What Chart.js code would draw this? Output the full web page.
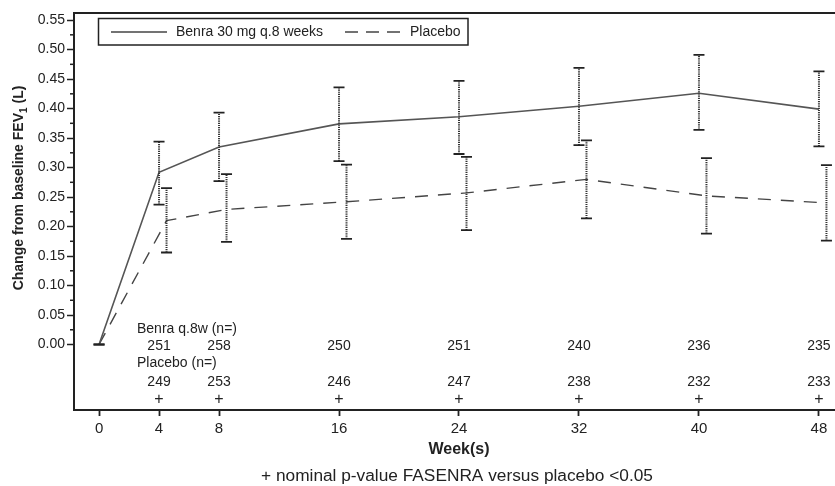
<!DOCTYPE html>
<html>
<head>
<meta charset="utf-8">
<script src="https://cdn.jsdelivr.net/npm/chart.js@4"></script>
<style>
  body { margin: 0; background: #fff; overflow: hidden; }
</style>
</head>
<body>
<canvas id="chart" width="835" height="486"></canvas>
<script>
// weeks and FEV1 change (L)
const weeks = [0, 4, 8, 16, 24, 32, 40, 48];
const placeboWeeks = [0, 4.5, 8.5, 16.5, 24.5, 32.5, 40.5, 48.5];

const benra = [0, 0.292, 0.335, 0.374, 0.386, 0.404, 0.426, 0.399];
const benraLow = [0, 0.237, 0.277, 0.311, 0.323, 0.338, 0.364, 0.336];
const benraHigh = [0, 0.344, 0.393, 0.436, 0.447, 0.469, 0.491, 0.463];

const placebo = [0, 0.210, 0.229, 0.242, 0.257, 0.280, 0.252, 0.240];
const placeboLow = [0, 0.156, 0.174, 0.179, 0.194, 0.214, 0.188, 0.176];
const placeboHigh = [0, 0.265, 0.289, 0.305, 0.318, 0.346, 0.316, 0.304];

const nWeeks = [4, 8, 16, 24, 32, 40, 48];
const benraN = [251, 258, 250, 251, 240, 236, 235];
const placeboN = [249, 253, 246, 247, 238, 232, 233];
const significant = [true, true, true, true, true, true, true];

const yTicks = [];
for (let i = 0; i <= 22; i++) yTicks.push(Math.round(i * 0.025 * 1000) / 1000);

const FONT = '"Liberation Sans", Arial, sans-serif';
const INK = "#222";

const errorBars = {
  id: "errorBars",
  afterDatasetsDraw(chart) {
    let ctx = chart.ctx;
    let xs = chart.scales.x, ys = chart.scales.y;
    let sets = [
      { x: weeks, lo: benraLow, hi: benraHigh },
      { x: placeboWeeks, lo: placeboLow, hi: placeboHigh }
    ];
    ctx.save();
    sets.forEach(s => {
      s.x.forEach((w, i) => {
        let px = xs.getPixelForValue(w);
        let y1 = ys.getPixelForValue(s.lo[i]);
        let y2 = ys.getPixelForValue(s.hi[i]);
        ctx.strokeStyle = "#333";
        ctx.lineWidth = 2;
        ctx.setLineDash([1.2, 1]);
        ctx.beginPath();
        ctx.moveTo(px, y1);
        ctx.lineTo(px, y2);
        ctx.stroke();
        ctx.setLineDash([]);
        ctx.lineWidth = 1.8;
        ctx.strokeStyle = INK;
        ctx.beginPath();
        ctx.moveTo(px - 5.5, y1); ctx.lineTo(px + 5.5, y1);
        ctx.moveTo(px - 5.5, y2); ctx.lineTo(px + 5.5, y2);
        ctx.stroke();
      });
    });
    ctx.restore();
  }
};

const decorations = {
  id: "decorations",
  afterDraw(chart) {
    let ctx = chart.ctx;
    let a = chart.chartArea;
    let xs = chart.scales.x, ys = chart.scales.y;
    ctx.save();

    // frame (right edge falls outside the picture)
    ctx.strokeStyle = INK;
    ctx.lineWidth = 2;
    ctx.beginPath();
    ctx.moveTo(chart.width, a.top);
    ctx.lineTo(a.left, a.top);
    ctx.lineTo(a.left, a.bottom);
    ctx.lineTo(chart.width, a.bottom);
    ctx.stroke();

    // minor y ticks
    ctx.lineWidth = 1.5;
    yTicks.forEach((v, i) => {
      if (i % 2 === 0) return;
      let py = ys.getPixelForValue(v);
      ctx.beginPath();
      ctx.moveTo(a.left - 4, py);
      ctx.lineTo(a.left, py);
      ctx.stroke();
    });

    // legend
    ctx.lineWidth = 1.5;
    ctx.strokeRect(98.5, 18.5, 369.5, 26.5);
    ctx.font = "14px " + FONT;
    ctx.fillStyle = INK;
    ctx.textBaseline = "middle";
    ctx.strokeStyle = "#444";
    ctx.beginPath();
    ctx.moveTo(111, 32); ctx.lineTo(167, 32);
    ctx.stroke();
    ctx.fillText(chart.data.datasets[0].label, 176, 32);
    ctx.setLineDash([13, 8]);
    ctx.beginPath();
    ctx.moveTo(345, 32); ctx.lineTo(405, 32);
    ctx.stroke();
    ctx.setLineDash([]);
    ctx.fillText(chart.data.datasets[1].label, 410, 32);

    // n rows
    ctx.textAlign = "left";
    ctx.fillText("Benra q.8w (n=)", 137, ys.getPixelForValue(0.026));
    ctx.fillText("Placebo (n=)", 137, ys.getPixelForValue(-0.032));
    ctx.textAlign = "center";
    nWeeks.forEach((w, i) => {
      let px = xs.getPixelForValue(w);
      ctx.fillText(String(benraN[i]), px, ys.getPixelForValue(-0.003));
      ctx.fillText(String(placeboN[i]), px, ys.getPixelForValue(-0.063));
      if (significant[i]) {
        ctx.font = "16px " + FONT;
        ctx.fillText("+", px, ys.getPixelForValue(-0.094));
        ctx.font = "14px " + FONT;
      }
    });

    // x title and footnote
    ctx.font = "bold 16px " + FONT;
    ctx.fillText("Week(s)", 459, 450);
    ctx.save();
    ctx.translate(457, 477);
    ctx.scale(1.08, 1);
    ctx.font = "16px " + FONT;
    ctx.fillText("+ nominal p-value FASENRA versus placebo <0.05", 0, 0);
    ctx.restore();

    // y title with subscript
    ctx.translate(19, 188);
    ctx.rotate(-Math.PI / 2);
    let main = "Change from baseline FEV";
    let tail = " (L)";
    ctx.font = "bold 14px " + FONT;
    let w1 = ctx.measureText(main).width;
    let w3 = ctx.measureText(tail).width;
    ctx.font = "bold 10px " + FONT;
    let w2 = ctx.measureText("1").width;
    let start = -(w1 + w2 + w3) / 2;
    ctx.textAlign = "left";
    ctx.font = "bold 14px " + FONT;
    ctx.fillText(main, start, 0);
    ctx.fillText(tail, start + w1 + w2, 0);
    ctx.font = "bold 10px " + FONT;
    ctx.fillText("1", start + w1, 5);
    ctx.restore();
  }
};

new Chart(document.getElementById("chart"), {
  type: "line",
  data: {
    datasets: [
      {
        label: "Benra 30 mg q.8 weeks",
        data: weeks.map((w, i) => ({ x: w, y: benra[i] })),
        borderColor: "#555",
        borderWidth: 1.6,
        pointRadius: 0,
        tension: 0
      },
      {
        label: "Placebo",
        data: placeboWeeks.map((w, i) => ({ x: w, y: placebo[i] })),
        borderColor: "#444",
        borderWidth: 1.4,
        borderDash: [13, 10],
        pointRadius: 0,
        tension: 0
      }
    ]
  },
  options: {
    responsive: false,
    animation: false,
    layout: { padding: { top: 13, right: 0, left: 0, bottom: 0 } },
    plugins: { legend: { display: false }, tooltip: { enabled: false } },
    scales: {
      x: {
        type: "linear",
        min: -1.67,
        max: 49.07,
        afterBuildTicks: s => { s.ticks = weeks.map(v => ({ value: v })); },
        afterFit: s => { s.height = 76; },
        ticks: {
          autoSkip: false,
          maxRotation: 0,
          padding: 4,
          color: INK,
          font: { family: FONT, size: 15 }
        },
        grid: { drawOnChartArea: false, tickLength: 6, tickWidth: 1.8, tickColor: INK },
        border: { display: false }
      },
      y: {
        min: -0.111,
        max: 0.562,
        afterBuildTicks: s => { s.ticks = yTicks.map(v => ({ value: v })); },
        afterFit: s => { s.width = 74; },
        ticks: {
          autoSkip: false,
          padding: 2,
          color: INK,
          font: { family: FONT, size: 14 },
          callback: (v, i) => i % 2 === 0 ? Number(v).toFixed(2) : ""
        },
        grid: {
          drawOnChartArea: false,
          tickLength: 7,
          tickWidth: 1.5,
          tickColor: c => c.index % 2 === 0 ? INK : "rgba(0,0,0,0)"
        },
        border: { display: false }
      }
    }
  },
  plugins: [errorBars, decorations]
});
</script>
</body>
</html>
